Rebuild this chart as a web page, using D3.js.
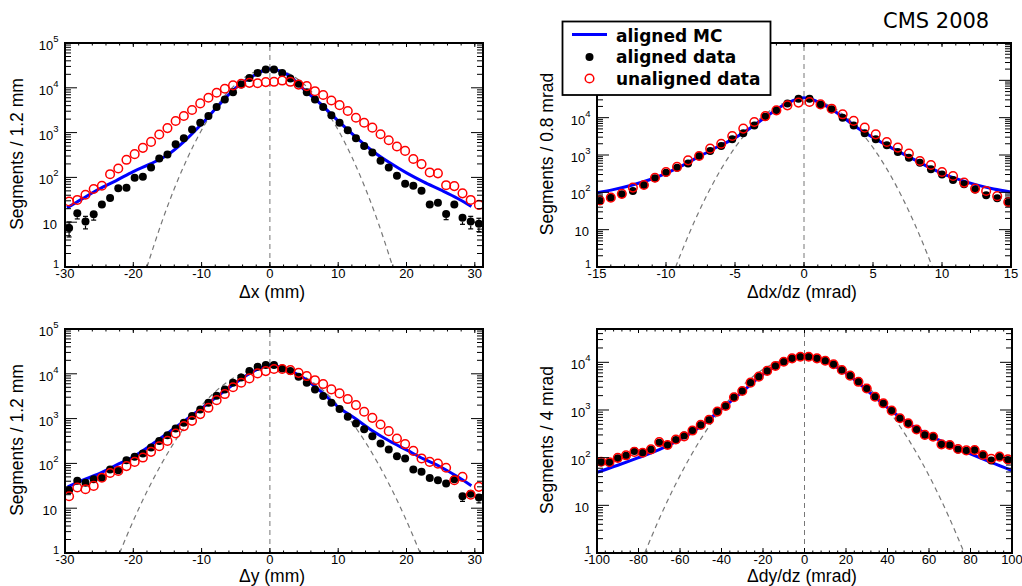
<!DOCTYPE html>
<html>
<head>
<meta charset="utf-8">
<script src="https://cdn.jsdelivr.net/npm/d3@7"></script>
<style>
  body { margin: 0; background: #fff; }
  svg { display: block; }
  .tick-label { font-family: "Liberation Sans", Arial, sans-serif; font-size: 13px; fill: #000; }
  .axis-title { font-family: "Liberation Sans", Arial, sans-serif; font-size: 17.5px; fill: #000; }
  .legend-text { font-family: "DejaVu Sans", sans-serif; font-weight: bold; font-size: 17px; fill: #000; }
  .cms { font-family: "DejaVu Sans", sans-serif; font-size: 21px; fill: #000; }
</style>
</head>
<body>
<div id="chart"></div>
<script>
/* CMS 2008 muon chamber alignment residuals, 4 log-scale panels.
   Black = aligned data, red = unaligned data, blue = aligned MC, dashed = gaussian core. */

// bin centres
const MM_BINS = [-29.4, -28.2, -27.0, -25.8, -24.6, -23.4, -22.2, -21.0, -19.8, -18.6, -17.4, -16.2, -15.0,
  -13.8, -12.6, -11.4, -10.2, -9.0, -7.8, -6.6, -5.4, -4.2, -3.0, -1.8, -0.6, 0.6, 1.8, 3.0, 4.2, 5.4, 6.6,
  7.8, 9.0, 10.2, 11.4, 12.6, 13.8, 15.0, 16.2, 17.4, 18.6, 19.8, 21.0, 22.2, 23.4, 24.6, 25.8, 27.0, 28.2,
  29.4, 30.6];
const DXDZ_BINS = [-14.8, -14.0, -13.2, -12.4, -11.6, -10.8, -10.0, -9.2, -8.4, -7.6, -6.8, -6.0, -5.2, -4.4,
  -3.6, -2.8, -2.0, -1.2, -0.4, 0.4, 1.2, 2.0, 2.8, 3.6, 4.4, 5.2, 6.0, 6.8, 7.6, 8.4, 9.2, 10.0, 10.8, 11.6,
  12.4, 13.2, 14.0, 14.8];
const DYDZ_BINS = [-98, -94, -90, -86, -82, -78, -74, -70, -66, -62, -58, -54, -50, -46, -42, -38, -34, -30,
  -26, -22, -18, -14, -10, -6, -2, 2, 6, 10, 14, 18, 22, 26, 30, 34, 38, 42, 46, 50, 54, 58, 62, 66, 70, 74,
  78, 82, 86, 90, 94, 98];

// Δx (mm)
const DX_ALIGNED = [7.4, 15.8, 10.3, 15, 24.7, 34.8, 57, 59, 98, 103, 166, 265, 324, 550, 745, 1180, 1660,
  2340, 3720, 5500, 8000, 11800, 16600, 21500, 25600, 25600, 21500, 16100, 12300, 8000, 5500, 3720, 2430,
  1660, 1130, 745, 505, 360, 235, 166, 109, 72, 65, 50.5, 24.7, 27, 15.3, 24.7, 12.5, 10.3, 9.2];
const DX_UNALIGNED = [29, 31.4, 41, 55, 65, 118, 158, 247, 330, 457, 620, 905, 1260, 1820, 2350, 3200, 4480,
  6000, 7750, 9500, 11300, 12300, 12900, 12600, 13400, 13600, 14500, 13600, 11800, 10900, 8400, 6900, 5200,
  4100, 3030, 2150, 1660, 1290, 920, 675, 490, 390, 257, 198, 129, 123, 67, 64, 44, 31.4, 24.3];
const DX_MC_X = [-29.7, -27.5, -25, -22.5, -20, -17.5, -15, -12.5, -10, -7.5, -5, -2.5, 0, 2.5, 5, 7.5, 10,
  12.5, 15, 17.5, 20, 22.5, 25, 27.5, 29.5];
const DX_MC = [20.9, 33.1, 55, 85, 135, 200, 316, 646, 1550, 4070, 10000, 18200, 26300, 19950, 9120, 4270,
  1820, 813, 389, 214, 126, 79.4, 52.5, 33.9, 22.4];
const DX_GAUSS_X = [-18, -16, -14, -12, -10, -8, -6, -4, -2, 0, 2, 4, 6, 8, 10, 12, 14, 16, 18];
const DX_GAUSS = [1, 8.47, 55.8, 285, 1140, 3520, 8490, 15900, 23200, 26300, 23200, 15900, 8490, 3520, 1140,
  285, 55.8, 8.47, 1];

// Δdx/dz (mrad)
const DXDZ_ALIGNED = [59, 72, 89, 109, 157, 237, 337, 458, 588, 940, 1280, 1740, 2630, 3800, 6200, 10600,
  15700, 24000, 32000, 32000, 22700, 16700, 10000, 6200, 3800, 2630, 1820, 1200, 850, 620, 415, 302, 214,
  164, 120, 83, 69, 53];
const DXDZ_UNALIGNED = [61, 72, 91, 134, 157, 246, 350, 480, 718, 940, 1480, 2000, 3230, 5100, 7650, 11000,
  15700, 21400, 25300, 26300, 22700, 17400, 12300, 8200, 5400, 3570, 2230, 1580, 1100, 690, 540, 350, 274,
  182, 126, 109, 79, 55];
const DXDZ_MC_X = [-15, -13.75, -12.5, -11.25, -10, -8.75, -7.5, -6.25, -5, -3.75, -2.5, -1.25, 0, 1.25, 2.5,
  3.75, 5, 6.25, 7.5, 8.75, 10, 11.25, 12.5, 13.75, 15];
const DXDZ_MC = [97.7, 120, 155, 214, 324, 537, 955, 1660, 2880, 5750, 12300, 24000, 33900, 24000, 12600,
  5750, 2950, 1620, 933, 537, 324, 219, 158, 123, 102];
const DXDZ_GAUSS_X = [-9.3, -9, -8, -7, -6, -5, -4, -3, -2, -1, 0, 1, 2, 3, 4, 5, 6, 7, 8, 9, 9.3];
const DXDZ_GAUSS = [1, 1.93, 14.8, 89.3, 424, 1580, 4650, 10800, 19600, 28100, 31600, 28100, 19600, 10800,
  4650, 1580, 424, 89.3, 14.8, 1.93, 1];

// Δy (mm)
const DY_ALIGNED = [25, 41, 37, 44, 48, 73, 70, 118, 140, 166, 225, 315, 427, 600, 810, 1140, 1600, 2250,
  3230, 4480, 6300, 8300, 11500, 14400, 15700, 15700, 13200, 11500, 8600, 6300, 4480, 3180, 2250, 1630, 1100,
  780, 580, 405, 277, 204, 145, 129, 73, 65, 47, 42, 35.5, 44, 18.5, 21, 17.3];
const DY_UNALIGNED = [18.5, 29, 26.5, 31.5, 48, 61, 68, 87, 108, 135, 181, 241, 318, 466, 680, 890, 1260,
  1740, 2580, 3530, 5000, 6300, 7900, 10200, 11500, 12800, 12800, 12100, 10500, 8900, 7200, 5900, 4480, 3650,
  2730, 2000, 1420, 1040, 740, 525, 360, 270, 190, 129, 108, 99, 80, 42, 50, 20, 30];
const DY_MC_X = [-29.6, -27.5, -25, -22.5, -20, -17.5, -15, -12.5, -10, -7.5, -5, -2.5, 0, 2.5, 5, 7.5, 10,
  12.5, 15, 17.5, 20, 22.5, 25, 27.5, 29.5];
const DY_MC = [29.9, 41.7, 58.9, 91.2, 141, 251, 468, 891, 1700, 3310, 6310, 11200, 15800, 12600, 7940, 3980,
  1820, 1000, 537, 316, 200, 126, 83.2, 50.1, 31.6];
const DY_GAUSS_X = [-22, -20, -18, -16, -14, -12, -10, -8, -6, -4, -2, 0, 2, 4, 6, 8, 10, 12, 14, 16, 18, 20, 22];
const DY_GAUSS = [1, 5.25, 23.5, 90.1, 295, 823, 1960, 3990, 6940, 10300, 13100, 14100, 13100, 10300, 6940,
  3990, 1960, 823, 295, 90.1, 23.5, 5.25, 1];

// Δdy/dz (mrad)
const DYDZ_ALIGNED = [80, 80, 97, 110, 138, 127, 149, 206, 184, 235, 290, 370, 487, 620, 925, 1210, 1850,
  2500, 3750, 5000, 6600, 8400, 10300, 12100, 13100, 13100, 12100, 10800, 9100, 6900, 5250, 3900, 2830, 1900,
  1380, 970, 670, 525, 390, 300, 275, 190, 184, 149, 140, 144, 114, 87, 105, 89];
const DYDZ_UNALIGNED = [82, 80, 99, 112, 132, 127, 149, 212, 184, 240, 280, 370, 487, 625, 925, 1210, 1850,
  2500, 3750, 5000, 6600, 8400, 10300, 12100, 13100, 13100, 12100, 10800, 9100, 6900, 5250, 3900, 2830, 1900,
  1380, 970, 670, 525, 390, 300, 275, 190, 184, 152, 142, 144, 114, 95, 105, 92];
const DYDZ_MC_X = [-100, -90, -80, -70, -60, -50, -40, -30, -20, -10, -5, 0, 5, 10, 20, 30, 40, 50, 60, 70,
  80, 90, 100];
const DYDZ_MC = [49, 69.2, 100, 148, 240, 457, 1050, 2400, 5620, 10230, 12600, 13800, 12600, 10700, 5890,
  2630, 1120, 525, 295, 186, 120, 79.4, 53.7];
const DYDZ_GAUSS_X = [-77, -70, -63, -56, -49, -42, -35, -28, -21, -14, -7, 0, 7, 14, 21, 28, 35, 42, 49, 56,
  63, 70, 77];
const DYDZ_GAUSS = [1, 5.21, 23.2, 88.2, 287, 797, 1890, 3840, 6650, 9850, 12500, 13500, 12500, 9850, 6650,
  3840, 1890, 797, 287, 88.2, 23.2, 5.21, 1];

const LEGEND_LABELS = ["aligned MC", "aligned data", "unaligned data"];

const W = 1022, H = 586;
const BLUE = "#0000ff", RED = "#ff0000", GREY = "#777";

const PANELS = [
  { id: "dx", box: [65, 483, 43, 267], xDomain: [-30, 31.2], yMax: 1e5,
    xTicks: [-30, -20, -10, 0, 10, 20, 30], xMinor: 2,
    bins: MM_BINS, aligned: DX_ALIGNED, unaligned: DX_UNALIGNED,
    mcX: DX_MC_X, mc: DX_MC, gX: DX_GAUSS_X, g: DX_GAUSS,
    xTitle: "Δx (mm)", yTitle: "Segments / 1.2 mm", xTitleX: 272, xTitleDy: 31, yTitleX: 23, yTitleY: 154 },
  { id: "dxdz", box: [597, 1011, 43, 267], xDomain: [-15, 15], yMax: 1e6,
    xTicks: [-15, -10, -5, 0, 5, 10, 15], xMinor: 1,
    bins: DXDZ_BINS, aligned: DXDZ_ALIGNED, unaligned: DXDZ_UNALIGNED,
    mcX: DXDZ_MC_X, mc: DXDZ_MC, gX: DXDZ_GAUSS_X, g: DXDZ_GAUSS,
    xTitle: "Δdx/dz (mrad)", yTitle: "Segments / 0.8 mrad", xTitleX: 802, xTitleDy: 31, yTitleX: 553, yTitleY: 154 },
  { id: "dy", box: [65, 483, 329, 553], xDomain: [-30, 31.2], yMax: 1e5,
    xTicks: [-30, -20, -10, 0, 10, 20, 30], xMinor: 2,
    bins: MM_BINS, aligned: DY_ALIGNED, unaligned: DY_UNALIGNED,
    mcX: DY_MC_X, mc: DY_MC, gX: DY_GAUSS_X, g: DY_GAUSS,
    xTitle: "Δy (mm)", yTitle: "Segments / 1.2 mm", xTitleX: 272, xTitleDy: 29.3, yTitleX: 23, yTitleY: 440 },
  { id: "dydz", box: [597, 1012, 329, 553], xDomain: [-100, 100], yMax: 5e4,
    xTicks: [-100, -80, -60, -40, -20, 0, 20, 40, 60, 80, 100], xMinor: 4,
    bins: DYDZ_BINS, aligned: DYDZ_ALIGNED, unaligned: DYDZ_UNALIGNED,
    mcX: DYDZ_MC_X, mc: DYDZ_MC, gX: DYDZ_GAUSS_X, g: DYDZ_GAUSS,
    xTitle: "Δdy/dz (mrad)", yTitle: "Segments / 4 mrad", xTitleX: 802, xTitleDy: 29.3, yTitleX: 553, yTitleY: 440 }
];

const svg = d3.select("#chart").append("svg")
    .attr("width", W).attr("height", H)
    .attr("viewBox", `0 0 ${W} ${H}`);

function drawPanel(p){
  const [x0, x1, y0, y1] = p.box;
  const x = d3.scaleLinear().domain(p.xDomain).range([x0, x1]);
  const y = d3.scaleLog().domain([1, p.yMax]).range([y1, y0]);
  const g = svg.append("g");

  const clipId = "clip-" + p.id;
  svg.append("clipPath").attr("id", clipId)
    .append("rect").attr("x", x0).attr("y", y0).attr("width", x1 - x0).attr("height", y1 - y0);
  const plot = g.append("g").attr("clip-path", `url(#${clipId})`);

  // zero line
  plot.append("line")
      .attr("x1", x(0)).attr("x2", x(0)).attr("y1", y1).attr("y2", y0)
      .attr("stroke", GREY).attr("stroke-width", 1).attr("stroke-dasharray", "5,4");

  // gaussian core
  const gPts = p.gX.map((v, i) => [v, p.g[i]]);
  plot.append("path").datum(gPts)
      .attr("fill", "none").attr("stroke", GREY).attr("stroke-width", 1.2)
      .attr("stroke-dasharray", "5,4")
      .attr("d", d3.line().x(d => x(d[0])).y(d => y(d[1])).curve(d3.curveCatmullRom));

  // aligned MC
  const mcPts = p.mcX.map((v, i) => [v, p.mc[i]]);
  plot.append("path").datum(mcPts)
      .attr("fill", "none").attr("stroke", BLUE).attr("stroke-width", 3)
      .attr("d", d3.line().x(d => x(d[0])).y(d => y(d[1])).curve(d3.curveCatmullRom));

  // data points with sqrt(N) error bars drawn outside the marker
  function points(values, cls, r, colour, filled){
    const pts = p.bins.map((b, i) => ({ b, n: values[i] }));
    const layer = plot.append("g").attr("class", cls);
    pts.forEach(d => {
      const cx = x(d.b), cy = y(d.n);
      const s = Math.sqrt(d.n);
      const lo = y(Math.max(d.n - s, 0.5)), hi = y(d.n + s);
      if (lo - cy > r + 1){
        layer.append("line").attr("x1", cx).attr("x2", cx).attr("y1", cy + r).attr("y2", lo)
            .attr("stroke", colour).attr("stroke-width", 1.2);
        layer.append("line").attr("x1", cx - 2.5).attr("x2", cx + 2.5).attr("y1", lo).attr("y2", lo)
            .attr("stroke", colour).attr("stroke-width", 1.2);
      }
      if (cy - hi > r + 1){
        layer.append("line").attr("x1", cx).attr("x2", cx).attr("y1", cy - r).attr("y2", hi)
            .attr("stroke", colour).attr("stroke-width", 1.2);
        layer.append("line").attr("x1", cx - 2.5).attr("x2", cx + 2.5).attr("y1", hi).attr("y2", hi)
            .attr("stroke", colour).attr("stroke-width", 1.2);
      }
    });
    layer.selectAll("circle").data(pts).join("circle")
        .attr("cx", d => x(d.b)).attr("cy", d => y(d.n)).attr("r", r)
        .attr("fill", filled ? colour : "none")
        .attr("stroke", filled ? "none" : colour)
        .attr("stroke-width", filled ? 0 : 1.5);
  }
  points(p.aligned, "aligned", 4, "#000", true);
  points(p.unaligned, "unaligned", 4.3, RED, false);

  // y ticks: majors at decades, minors 2..9 on both sides
  const decades = d3.range(0, Math.floor(Math.log10(p.yMax)) + 1);
  const ticks = [];
  decades.forEach(dd => {
    for (let m = 1; m <= 9; m++){
      const v = m * Math.pow(10, dd);
      if (v <= p.yMax * 1.0001) ticks.push({ v, major: m === 1 });
    }
  });
  ticks.forEach(t => {
    const len = t.major ? 12 : 6;
    g.append("line").attr("x1", x0).attr("x2", x0 + len).attr("y1", y(t.v)).attr("y2", y(t.v))
        .attr("stroke", "#000").attr("stroke-width", 1);
    g.append("line").attr("x1", x1 - len).attr("x2", x1).attr("y1", y(t.v)).attr("y2", y(t.v))
        .attr("stroke", "#000").attr("stroke-width", 1);
  });

  // y labels
  decades.forEach(dd => {
    const ty = y(Math.pow(10, dd));
    if (dd === 0){
      g.append("text").attr("class", "tick-label").attr("text-anchor", "end")
          .attr("x", x0 - 6).attr("y", ty + 1).style("font-size", "11px").text("1");
    } else if (dd === 1){
      g.append("text").attr("class", "tick-label").attr("text-anchor", "end")
          .attr("x", x0 - 8).attr("y", ty + 6.5).text("10");
    } else {
      const t = g.append("text").attr("class", "tick-label").attr("text-anchor", "end")
          .attr("x", x0 - 6.5).attr("y", ty + 7);
      t.append("tspan").text("10");
      t.append("tspan").attr("dy", -8).style("font-size", "9.5px").text(dd);
    }
  });

  // x ticks
  const minor = d3.range(p.xTicks[0], p.xDomain[1] + 1e-6, p.xMinor);
  minor.forEach(v => {
    g.append("line").attr("x1", x(v)).attr("x2", x(v)).attr("y1", y1).attr("y2", y1 - 2.5)
        .attr("stroke", "#000").attr("stroke-width", 1);
    g.append("line").attr("x1", x(v)).attr("x2", x(v)).attr("y1", y0).attr("y2", y0 + 2.5)
        .attr("stroke", "#000").attr("stroke-width", 1);
  });
  p.xTicks.forEach(v => {
    g.append("line").attr("x1", x(v)).attr("x2", x(v)).attr("y1", y1).attr("y2", y1 - 5)
        .attr("stroke", "#000").attr("stroke-width", 1);
    g.append("line").attr("x1", x(v)).attr("x2", x(v)).attr("y1", y0).attr("y2", y0 + 4)
        .attr("stroke", "#000").attr("stroke-width", 1);
    g.append("text").attr("class", "tick-label").attr("text-anchor", "middle")
        .attr("x", x(v)).attr("y", y1 + 11).text(v);
  });

  // frame
  g.append("rect").attr("x", x0).attr("y", y0).attr("width", x1 - x0).attr("height", y1 - y0)
      .attr("fill", "none").attr("stroke", "#000").attr("stroke-width", 2);

  // titles
  g.append("text").attr("class", "axis-title").attr("text-anchor", "middle")
      .attr("x", p.xTitleX).attr("y", y1 + p.xTitleDy).text(p.xTitle);
  g.append("text").attr("class", "axis-title").attr("text-anchor", "middle")
      .attr("transform", `translate(${p.yTitleX},${p.yTitleY}) rotate(-90)`).text(p.yTitle);
}

PANELS.forEach(drawPanel);

// legend (sits over the top-right panel)
const leg = svg.append("g");
leg.append("rect").attr("x", 562.5).attr("y", 21.5).attr("width", 208).attr("height", 73.5)
    .attr("fill", "#fff").attr("stroke", "#000").attr("stroke-width", 1.8);
leg.append("line").attr("x1", 572).attr("x2", 607).attr("y1", 34.5).attr("y2", 34.5)
    .attr("stroke", BLUE).attr("stroke-width", 3);
leg.append("circle").attr("cx", 589.5).attr("cy", 57).attr("r", 4).attr("fill", "#000");
leg.append("circle").attr("cx", 589.5).attr("cy", 78.5).attr("r", 4.3)
    .attr("fill", "none").attr("stroke", RED).attr("stroke-width", 1.5);
leg.selectAll("text.legend-text").data(LEGEND_LABELS).join("text")
    .attr("class", "legend-text")
    .attr("x", 616).attr("y", (d, i) => 41.5 + i * 21.5)
    .text(d => d);

svg.append("text").attr("class", "cms").attr("x", 883).attr("y", 28).text("CMS 2008");
</script>
</body>
</html>
